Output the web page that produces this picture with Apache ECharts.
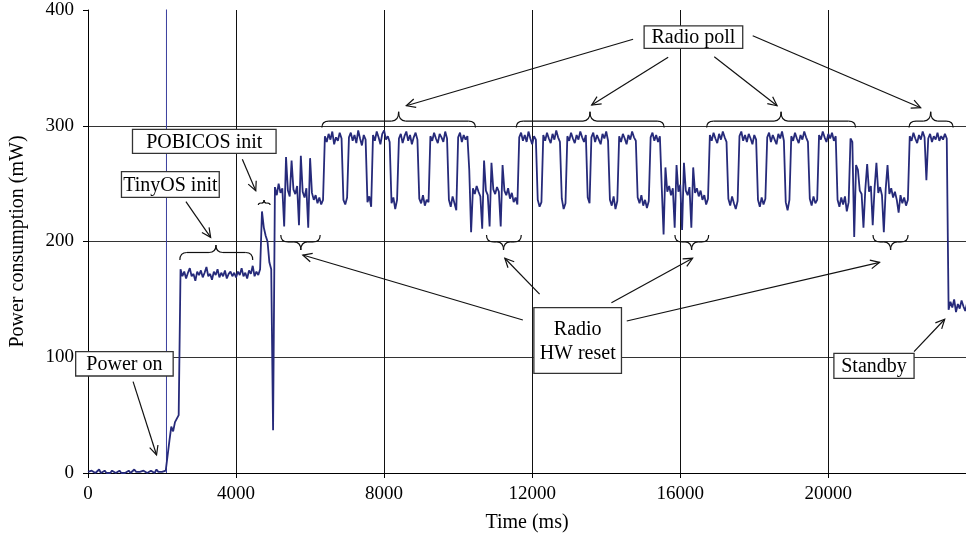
<!DOCTYPE html>
<html><head><meta charset="utf-8">
<script src="https://cdn.jsdelivr.net/npm/echarts@6/dist/echarts.min.js"></script>
<style>html,body{margin:0;padding:0;background:#fff}#c{width:966px;height:544px}</style>
</head><body><div id="c"></div>
<script>
// ---- data ----
const SAMPLE_MS = 50;   // sampling period of the trace (ms)
const power = [
1,0,2,1,0,1,3,0,1,2,0,1,0,2,1,0,1,2,0,1,
0,1,2,0,1,3,1,0,1,0,2,1,0,1,2,1,0,3,1,0,
1,0,2,1,28,40,36,44,47,50,176,170,174,168,173,177,170,172,166,174,
171,175,169,173,178,170,172,167,174,171,176,169,173,170,175,168,172,174,170,173,
169,174,171,177,170,173,168,175,172,179,170,174,171,176,226,212,205,200,182,176,
37,247,240,250,242,246,213,273,244,239,270,245,241,248,214,274,243,238,246,212,
272,242,236,240,233,238,232,236,291,286,293,288,295,284,290,287,294,289,236,232,
238,290,294,287,292,285,296,289,283,292,288,234,239,230,292,287,295,290,284,293,
296,288,291,286,233,238,228,236,289,293,285,291,295,287,292,284,290,294,288,237,
233,240,231,236,234,291,287,294,289,285,293,290,286,295,289,236,230,239,233,227,
290,294,286,292,288,291,262,208,246,241,248,243,239,211,270,244,240,213,268,245,
241,247,243,213,266,244,240,246,237,242,234,238,232,290,294,287,292,286,295,289,
284,291,288,236,230,234,292,287,294,289,285,293,288,296,290,286,237,228,233,291,
287,294,289,285,292,288,295,290,286,292,238,233,290,294,286,292,288,284,293,289,
295,287,236,231,239,228,235,291,286,293,289,284,292,288,295,290,287,238,233,240,
231,236,229,235,290,294,287,292,286,291,247,206,264,243,248,240,246,212,266,243,
249,210,268,244,240,247,212,264,242,246,239,244,236,240,232,237,292,287,294,289,
285,293,288,295,290,286,237,231,239,233,228,235,291,295,287,292,286,293,289,284,
292,288,236,230,238,232,237,290,294,286,292,288,284,293,289,295,287,234,227,236,
291,287,294,289,285,292,288,295,290,286,237,231,239,233,236,292,288,295,290,286,
293,289,294,287,291,236,230,238,232,239,226,234,289,286,204,266,262,244,241,212,
245,267,243,248,214,246,268,242,247,240,208,245,266,241,246,238,243,236,225,240,
233,238,231,236,291,287,294,289,285,292,288,295,290,253,289,293,286,291,288,294,
287,291,288,293,289,141,148,143,150,139,146,142,149,144,140,147
];
const glitchTime = [2120, 2120];     // power-on glitch (off scale)
const glitchValue = [0, 1000];
const xMin = 0, xMax = 23720, xStep = 4000;
const yMin = 0, yMax = 400, yStep = 100;

// annotations (data coordinates)
const boxes = [
  {text:'Power on',      t:[-333, 2301],  v:[104.8, 83.8]},
  {text:'TinyOS init',   t:[904, 3546],   v:[260.3, 238.2]},
  {text:'POBICOS init',  t:[1202, 5081],  v:[296.9, 276.2]},
  {text:'Radio poll',    t:[15024, 17688],v:[386.2, 366.9]},
  {text:'Radio\nHW reset',t:[12046, 14412],v:[142.8, 86.1]},
  {text:'Standby',       t:[20151, 22317],v:[103.4, 81.8]}
];
const arrows = [
  [1218,78.9, 1852,15.6],
  [2645,234.4, 3313,203.6],
  [4169,271.0, 4532,243.9],
  [14726,374.7, 8600,317.3],
  [15674,359.1, 13608,317.9],
  [16919,359.6, 18616,317.3],
  [17958,377.8, 22495,315.6],
  [11748,132.2, 5804,188.3],
  [12200,154.6, 11261,185.5],
  [14141,147.1, 16334,185.5],
  [14555,131.3, 21385,182.0],
  [22316,104.8, 23145,132.8]
];
const braces = [
  {t1:2482, t2:4450, tm:3457, vEnd:184.0, vMid:190.5, vTip:197.0},
  {t1:4602, t2:4919, tm:4756, vEnd:231.5, vMid:233.2, vTip:235.8},
  {t1:6318, t2:10468, tm:8392, vEnd:298.5, vMid:304.0, vTip:312.0},
  {t1:11570, t2:15565, tm:13562, vEnd:298.5, vMid:304.0, vTip:312.0},
  {t1:16713, t2:20736, tm:18724, vEnd:298.5, vMid:304.0, vTip:312.0},
  {t1:22181, t2:23372, tm:22766, vEnd:298.5, vMid:304.0, vTip:312.0},
  {t1:5208, t2:6272, tm:5750, vEnd:205.6, vMid:199.6, vTip:192.6},
  {t1:10766, t2:11705, tm:11226, vEnd:205.6, vMid:199.6, vTip:192.6},
  {t1:15856, t2:16768, tm:16307, vEnd:205.6, vMid:199.6, vTip:192.6},
  {t1:21207, t2:22155, tm:21683, vEnd:205.6, vMid:199.6, vTip:192.6}
];

// ---- chart ----
const FONT = '"Liberation Serif", "DejaVu Serif", serif';
const chart = echarts.init(document.getElementById('c'), null, {renderer:'canvas'});
const trace = power.map((v, i) => [i * SAMPLE_MS, v]);
const glitch = glitchTime.map((t, i) => [t, glitchValue[i]]);

chart.setOption({
  animation: false,
  backgroundColor: '#fff',
  grid: {left: 88, right: 0, top: 10, bottom: 71, containLabel: false, outerBoundsMode: 'none'},
  xAxis: {
    type: 'value', min: xMin, max: xMax, interval: xStep,
    name: 'Time (ms)', nameLocation: 'middle', nameGap: 40,
    nameTextStyle: {fontFamily: FONT, fontSize: 20, color: '#000'},
    axisLine: {show: true, lineStyle: {color: '#000', width: 1}},
    axisTick: {show: true, length: 5, lineStyle: {color: '#000'}},
    axisLabel: {fontFamily: FONT, fontSize: 19, color: '#000', margin: 12,
      formatter: v => (v % xStep === 0 ? String(v) : '')},
    splitLine: {show: true, showMinLine: false, showMaxLine: false, lineStyle: {color: '#111', width: 1}}
  },
  yAxis: {
    type: 'value', min: yMin, max: yMax, interval: yStep,
    name: 'Power consumption (mW)', nameLocation: 'middle', nameGap: 60, nameRotate: 90,
    nameTextStyle: {fontFamily: FONT, fontSize: 20, color: '#000'},
    axisLine: {show: true, lineStyle: {color: '#000', width: 1}},
    axisTick: {show: true, length: 5, lineStyle: {color: '#000'}},
    axisLabel: {fontFamily: FONT, fontSize: 19, color: '#000', margin: 14},
    splitLine: {show: true, showMinLine: false, showMaxLine: false, lineStyle: {color: '#333', width: 1}}
  },
  series: [
    {type: 'line', data: glitch, showSymbol: false, clip: true, silent: true,
     lineStyle: {color: '#3a3f9e', width: 1}},
    {type: 'line', data: trace, showSymbol: false, clip: true, sampling: null, silent: true,
     lineStyle: {color: '#262a7a', width: 1.8}}
  ]
});

// ---- annotations ----
function P(t, v) { return chart.convertToPixel({gridIndex: 0}, [t, v]); }
const LS = {stroke: '#111', lineWidth: 1.2, fill: null};
const els = [];
function line(x1, y1, x2, y2) { els.push({type: 'line', z: 50, shape: {x1, y1, x2, y2}, style: LS}); }
function bez(x1, y1, cx, cy, x2, y2) { els.push({type: 'bezierCurve', z: 50, shape: {x1, y1, x2, y2, cpx1: cx, cpy1: cy}, style: LS}); }

arrows.forEach(a => {
  const p1 = P(a[0], a[1]), p2 = P(a[2], a[3]);
  line(p1[0], p1[1], p2[0], p2[1]);
  const dx = p2[0] - p1[0], dy = p2[1] - p1[1], L = Math.hypot(dx, dy);
  const bx = -dx / L, by = -dy / L, hl = 10, c = Math.cos(0.45), s = Math.sin(0.45);
  const h1 = [p2[0] + hl * (bx * c - by * s), p2[1] + hl * (bx * s + by * c)];
  const h2 = [p2[0] + hl * (bx * c + by * s), p2[1] + hl * (-bx * s + by * c)];
  els.push({type: 'polyline', z: 50, shape: {points: [h1, p2, h2]}, style: LS});
});

braces.forEach(b => {
  const a = P(b.t1, b.vEnd), e = P(b.t2, b.vEnd), m = P(b.tm, b.vTip), ym = P(b.tm, b.vMid)[1];
  const x1 = a[0], x2 = e[0], xm = m[0], yE = a[1], yT = m[1];
  const r = Math.min(7, (xm - x1) / 2.5, (x2 - xm) / 2.5);
  bez(x1, yE, x1, ym, x1 + r, ym);
  line(x1 + r, ym, xm - r, ym);
  bez(xm - r, ym, xm, ym, xm, yT);
  bez(xm, yT, xm, ym, xm + r, ym);
  line(xm + r, ym, x2 - r, ym);
  bez(x2 - r, ym, x2, ym, x2, yE);
});

boxes.forEach(b => {
  const p1 = P(b.t[0], b.v[0]), p2 = P(b.t[1], b.v[1]);
  const x = Math.min(p1[0], p2[0]), y = Math.min(p1[1], p2[1]);
  const w = Math.abs(p2[0] - p1[0]), h = Math.abs(p2[1] - p1[1]);
  els.push({type: 'rect', z: 60, shape: {x, y, width: w, height: h},
    style: {fill: '#fff', stroke: '#333', lineWidth: 1.3}});
  els.push({type: 'text', z: 61, x: x + w / 2, y: y + h / 2 + 1,
    style: {text: b.text, fill: '#000', font: '20px ' + FONT, align: 'center', verticalAlign: 'middle', lineHeight: 24}});
});

chart.setOption({graphic: {elements: els}});
</script>
</body></html>
